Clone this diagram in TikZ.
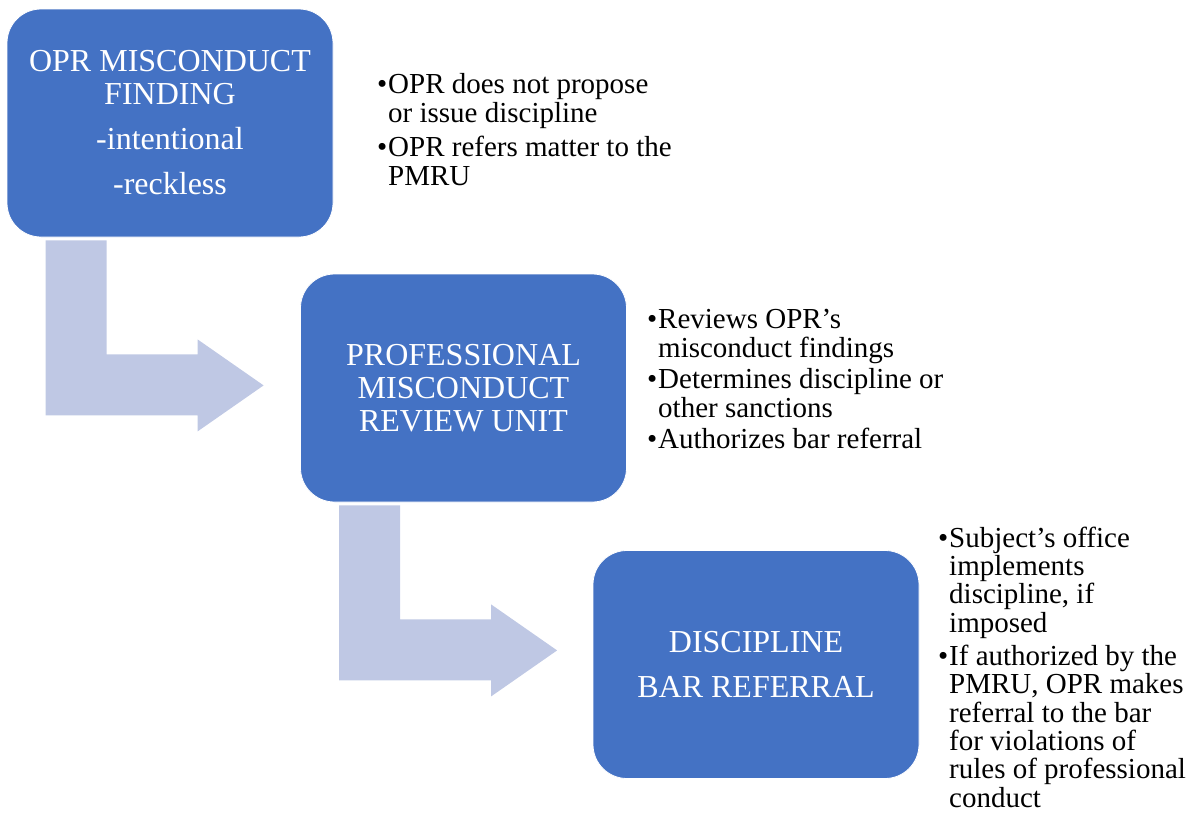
\documentclass[tikz,border=0pt]{standalone}
\usepackage{fontspec}
\setmainfont{Liberation Serif}
\usetikzlibrary{positioning, calc}

\definecolor{boxblue}{HTML}{4472C4}
\definecolor{bendblue}{HTML}{BFC8E4}

% bullet and hanging indent for the side notes
\newcommand{\bul}{\makebox[11pt][l]{\textbullet}}
\newcommand{\ind}{\hspace*{11pt}}

\begin{document}
\begin{tikzpicture}[x=1pt, y=-1pt,
    box/.style={rectangle, fill=boxblue, draw=white, line width=0.8pt,
                rounded corners=34pt, minimum width=326pt, minimum height=228pt,
                align=center, text=white, inner sep=0pt,
                font=\fontsize{32}{33}\selectfont},
    note/.style={anchor=base west, align=left, inner sep=0pt,
                 font=\fontsize{29}{29}\selectfont},
    tightnote/.style={note, font=\fontsize{29}{28.3}\selectfont},
    bentarrow/.style={fill=bendblue}
]
    \useasboundingbox (0,0) rectangle (1199,828);

    \node[box] (finding) at (170,123)
        {OPR MISCONDUCT\\FINDING\\[12pt]-intentional\\[12pt]-reckless};
    \node[box] (pmru) at (463.5,388) {PROFESSIONAL\\MISCONDUCT\\REVIEW UNIT};
    \node[box] (discipline) at (756,664.5) {DISCIPLINE\\[12pt]BAR REFERRAL};

    % bent arrows between the boxes
    \foreach \from in {finding, pmru} {
        \fill[bentarrow, shift={($(\from.south west)+(39,3)$)}]
            (0,0) -- (61,0) -- (61,114) -- (152,114) -- (152,99)
            -- (218,145) -- (152,191) -- (152,175) -- (0,175) -- cycle;
    }

    % notes sit on the baseline of their last line
    \node[note] (opr1) at (377,122) {\bul OPR does not propose\\\ind or issue discipline};
    \node[note] (opr2) at (377,185) {\bul OPR refers matter to the\\\ind PMRU};

    \node[note] (pmru1) at (647,357) {\bul Reviews OPR’s\\\ind misconduct findings};
    \node[note] (pmru2) at (647,417) {\bul Determines discipline or\\\ind other sanctions};
    \node[note] (pmru3) at (647,448) {\bul Authorizes bar referral};

    \node[tightnote] (disc1) at (938,632)
        {\bul Subject’s office\\\ind implements\\\ind discipline, if\\\ind imposed};
    \node[tightnote] (disc2) at (938,807)
        {\bul If authorized by the\\\ind PMRU, OPR makes\\\ind referral to the bar\\\ind for violations of\\\ind rules of professional\\\ind conduct};
\end{tikzpicture}
\end{document}
